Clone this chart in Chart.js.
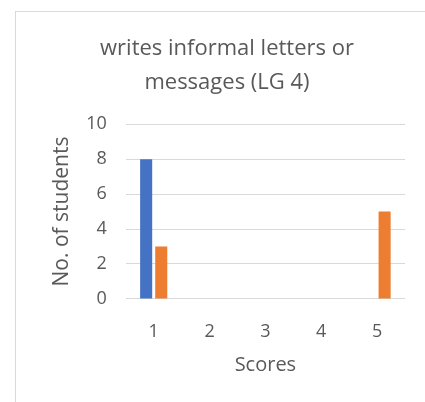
<!DOCTYPE html>
<html>
<head>
<meta charset="utf-8">
<script src="https://cdn.jsdelivr.net/npm/chart.js@4"></script>
<style>
  html, body { margin: 0; padding: 0; background: #fff; }
  #wrap { position: relative; width: 425px; height: 402px; overflow: hidden; }
  #frame { position: absolute; left: 15px; top: 11px; width: 430px; height: 420px; border: 1px solid #d9d9d9; }
  #chart { position: absolute; left: 0; top: 0; }
</style>
</head>
<body>
<div id="wrap">
  <div id="frame"></div>
  <canvas id="chart" width="425" height="402"></canvas>
</div>
<script>
const scores = ['1', '2', '3', '4', '5'];
const series1 = [8, 0, 0, 0, 0];
const series2 = [3, 0, 0, 0, 5];
const yTicks = [0, 2, 4, 6, 8, 10];

const grey = '#595959';
const font = "'Open Sans', sans-serif";

new Chart(document.getElementById('chart').getContext('2d'), {
    type: 'bar',
    data: {
        labels: scores,
        datasets: [
            { label: 'Series1', data: series1, backgroundColor: '#4472C4' },
            { label: 'Series2', data: series2, backgroundColor: '#ED7D31' }
        ]
    },
    options: {
        responsive: false,
        animation: false,
        categoryPercentage: 0.54,
        barPercentage: 0.8,
        layout: { padding: { left: 49, right: 20, top: 32, bottom: 25 } },
        plugins: {
            legend: { display: false },
            tooltip: { enabled: false },
            title: {
                display: true,
                text: ['writes informal letters or', 'messages (LG 4)'],
                color: grey,
                font: { family: font, size: 22, weight: 'normal', lineHeight: 1.55 },
                padding: { top: 0, bottom: 24 }
            }
        },
        scales: {
            x: {
                grid: { display: false, drawTicks: false },
                border: { display: false },
                ticks: { color: grey, font: { family: font, size: 18 }, padding: 22 },
                title: { display: true, text: 'Scores', color: grey, font: { family: font, size: 20 }, padding: { top: -11.5, bottom: 0 } }
            },
            y: {
                min: 0,
                max: 10,
                afterBuildTicks: axis => { axis.ticks = yTicks.map(v => ({ value: v })); },
                grid: { color: '#d9d9d9', drawTicks: false },
                border: { display: false },
                ticks: { color: grey, font: { family: font, size: 18 }, padding: 19 },
                title: { display: true, text: 'No. of students', color: grey, font: { family: font, size: 21 }, padding: { top: 0, bottom: -7 } }
            }
        }
    }
});
</script>
</body>
</html>
